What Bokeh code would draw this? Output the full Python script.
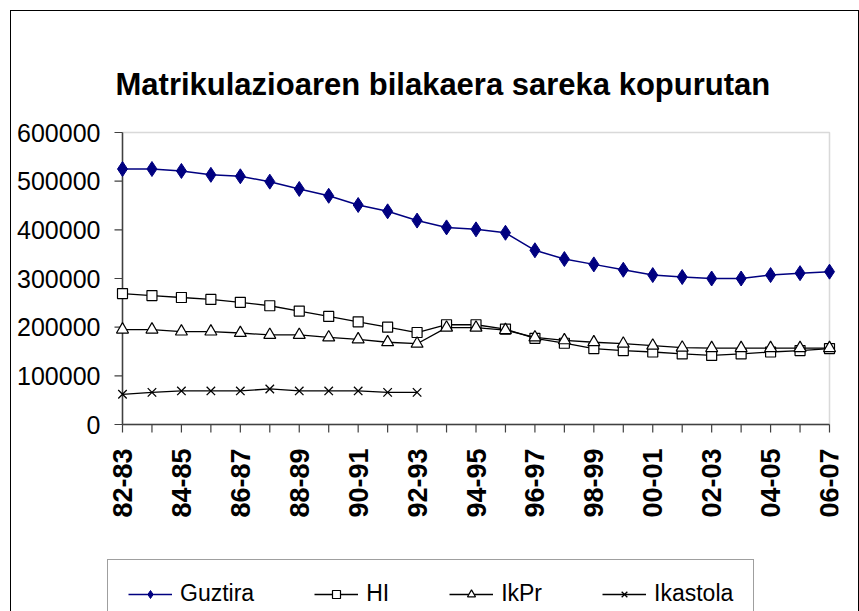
from bokeh.plotting import figure
from bokeh.models import (Range1d, FixedTicker, Legend, LegendItem, BoxAnnotation)
from bokeh.core.properties import value
from bokeh.embed import file_html
from bokeh.resources import INLINE
import math

categories = ["82-83", "83-84", "84-85", "85-86", "86-87", "87-88", "88-89", "89-90",
              "90-91", "91-92", "92-93", "93-94", "94-95", "95-96", "96-97", "97-98",
              "98-99", "99-00", "00-01", "01-02", "02-03", "03-04", "04-05", "05-06", "06-07"]
guztira = [525000, 525000, 521000, 513000, 510000, 499000, 484000, 470000, 451000, 438000,
           419000, 405000, 401000, 394000, 358000, 340000, 329000, 318000, 307000, 303000,
           300000, 300000, 307000, 311000, 314000]
hi = [269000, 265000, 261000, 257000, 251000, 244000, 233000, 222000, 211000, 200000,
      189000, 205000, 205000, 196000, 177000, 167000, 156000, 152000, 149000, 145000,
      142000, 145000, 149000, 152000, 156000]
ikpr = [195000, 195000, 191000, 191000, 188000, 184000, 184000, 179000, 175000, 169000,
        166000, 199000, 199000, 194000, 179000, 173000, 169000, 166000, 162000, 158000,
        157000, 157000, 157000, 157000, 157000]
ikastola = [62000, 66000, 69000, 69000, 69000, 73000, 69000, 69000, 69000, 66000, 66000]
y_ticks = [0, 100000, 200000, 300000, 400000, 500000, 600000]
title_text = "Matrikulazioaren bilakaera sareka kopurutan"
series_names = ["Guztira", "HI", "IkPr", "Ikastola"]

xs = list(range(len(categories)))
n = len(categories) - 1

# geometry (pixels): 707 x 292 px plot area, extra room around it inside the frame
PLOT_W, PLOT_H = 707, 292
PAD_L, PAD_R, PAD_Y, BELOW = 19, 9, 2, 187
TICK, LABEL_GAP = 8, 24
y_max = y_ticks[-1]
ypp = y_max / PLOT_H          # data units per pixel (vertical)
xpp = n / PLOT_W              # data units per pixel (horizontal)

p = figure(frame_width=PLOT_W + PAD_L + PAD_R, frame_height=PLOT_H + PAD_Y + BELOW,
           min_border_left=111 - PAD_L, min_border_right=29 - PAD_R,
           min_border_top=121 - PAD_Y, min_border_bottom=0,
           x_range=Range1d(-PAD_L * xpp, n + PAD_R * xpp),
           y_range=Range1d(-BELOW * ypp, y_max + PAD_Y * ypp),
           output_backend="svg", toolbar_location=None,
           margin=(10, 0, 0, 10),
           styles={"border-top": "1px solid black", "border-left": "1px solid black",
                   "border-right": "1px solid black"})

p.title.text = title_text
p.title.text_font = "Liberation Sans"
p.title.text_font_size = "31px"
p.title.text_font_style = "bold"
p.title.align = "left"
p.title.offset = -7 + PAD_L
p.title.standoff = 60 - PAD_Y
p.title.text_color = "black"

p.xgrid.visible = False
p.ygrid.visible = False
p.xaxis.visible = False
p.outline_line_color = None
p.background_fill_color = "white"
p.border_fill_color = "white"

# plot-area border (grey) at the data extent
p.add_layout(BoxAnnotation(left=xs[0], right=xs[-1], bottom=y_ticks[0], top=y_max, fill_alpha=0,
                           line_color="#808080", line_width=1.5, level="underlay"))
# axis lines
p.segment(x0=[xs[0]], y0=[y_ticks[0]], x1=[xs[0]], y1=[y_max], line_color="#404040", line_width=1.5)
p.segment(x0=[xs[0]], y0=[y_ticks[0]], x1=[xs[-1]], y1=[y_ticks[0]], line_color="#404040", line_width=1.5)
# value ticks
p.segment(x0=[xs[0]] * len(y_ticks), y0=y_ticks, x1=[xs[0] - TICK * xpp] * len(y_ticks), y1=y_ticks,
          line_color="#404040", line_width=1.2)
# category ticks and labels
p.segment(x0=xs, y0=[y_ticks[0]] * len(xs), x1=xs, y1=[y_ticks[0] - TICK * ypp] * len(xs),
          line_color="#404040", line_width=1.2)
p.text(x=xs[::2], y=[y_ticks[0]] * len(xs[::2]), text=categories[::2], angle=math.pi / 2,
       y_offset=LABEL_GAP, text_align="right", text_baseline="middle",
       text_font=value("Liberation Sans"), text_font_size="27px", text_font_style="bold",
       text_color="black")

# y axis labels
p.yaxis.ticker = FixedTicker(ticks=y_ticks)
p.yaxis.formatter.use_scientific = False
p.yaxis.major_label_text_font = "Liberation Sans"
p.yaxis.major_label_text_font_size = "25px"
p.yaxis.major_label_text_color = "black"
p.yaxis.major_tick_in = 0
p.yaxis.major_tick_out = 0
p.yaxis.major_tick_line_color = None
p.yaxis.minor_tick_line_color = None
p.yaxis.axis_line_color = None
p.yaxis.major_label_standoff = 3

navy = "#000080"
l1 = p.line(xs, guztira, line_color=navy, line_width=1.5)
s1 = p.scatter(xs, guztira, marker="diamond", size=15, fill_color=navy, line_color=navy)
l2 = p.line(xs, hi, line_color="black", line_width=1.3)
s2 = p.scatter(xs, hi, marker="square", size=10, fill_color="white", line_color="black", line_width=1.2)
l3 = p.line(xs, ikpr, line_color="black", line_width=1.3)
s3 = p.scatter(xs, ikpr, marker="triangle", size=12, fill_color="white", line_color="black", line_width=1.2)
xk = xs[:len(ikastola)]
l4 = p.line(xk, ikastola, line_color="black", line_width=1.3)
s4 = p.scatter(xk, ikastola, marker="x", size=12, line_color="black", line_width=1.3)

legend = Legend(items=[LegendItem(label=series_names[0], renderers=[l1, s1]),
                       LegendItem(label=series_names[1], renderers=[l2, s2]),
                       LegendItem(label=series_names[2], renderers=[l3, s3]),
                       LegendItem(label=series_names[3], renderers=[l4, s4])],
                orientation="horizontal", location=(4, -17),
                label_text_font="Liberation Sans", label_text_font_size="23px",
                label_text_color="black", glyph_width=44, glyph_height=20, label_height=20,
                label_standoff=8, spacing=60, padding=20, margin=0,
                border_line_color="#404040", border_line_width=1.2,
                background_fill_color="white", background_fill_alpha=1)
p.add_layout(legend, "center")

open("out.html", "w").write(file_html(p, INLINE))
